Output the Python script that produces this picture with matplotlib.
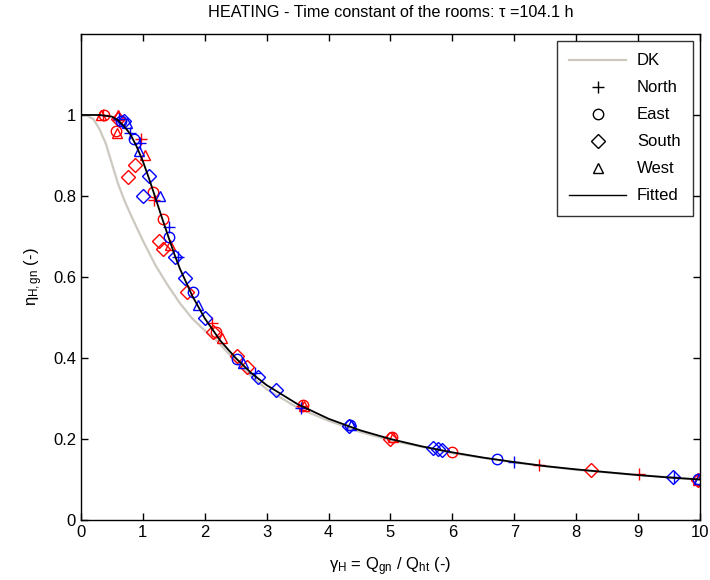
import numpy as np
import matplotlib
matplotlib.use("Agg")
import matplotlib.pyplot as plt
from matplotlib.lines import Line2D

plt.rcParams['font.family'] = ['Liberation Sans', 'DejaVu Sans']
plt.rcParams['mathtext.fontset'] = 'custom'
plt.rcParams['mathtext.rm'] = 'Liberation Sans'
plt.rcParams['mathtext.it'] = 'Liberation Sans:italic'

# Curves
dk_x = [0, 0.1, 0.2, 0.3, 0.4, 0.5, 0.6, 0.7, 0.8, 1.0, 1.2, 1.4, 1.6, 1.8, 2.0, 2.2,
        2.5, 2.75, 3.0, 3.5, 4.0, 4.5, 5.0, 6.0, 7.0, 8.0, 9.0, 10.0]
dk_y = [1.0, 0.998, 0.99, 0.965, 0.93, 0.88, 0.83, 0.79, 0.755, 0.69, 0.63, 0.58, 0.535,
        0.497, 0.468, 0.442, 0.392, 0.355, 0.323, 0.277, 0.245, 0.218, 0.197, 0.165,
        0.142, 0.124, 0.111, 0.10]

fit_x = [0, 0.3, 0.5, 0.6, 0.7, 0.8, 0.9, 1.0, 1.1, 1.2, 1.3, 1.4, 1.5, 1.6, 1.8, 2.0,
         2.25, 2.5, 2.75, 3.0, 3.5, 4.0, 4.5, 5.0, 5.5, 6.0, 6.5, 7.0, 7.5, 8.0, 8.5,
         9.0, 9.5, 10.0]
fit_y = [1.0, 1.0, 0.996, 0.987, 0.972, 0.952, 0.922, 0.886, 0.843, 0.797, 0.75, 0.705,
         0.66, 0.62, 0.553, 0.498, 0.443, 0.40, 0.363, 0.333, 0.286, 0.25, 0.222, 0.20,
         0.182, 0.167, 0.154, 0.143, 0.133, 0.125, 0.118, 0.111, 0.105, 0.10]

# Simulated points, red set
red_north_x = [0.35, 0.97, 1.18, 2.12, 3.57, 7.4, 9.02]
red_north_y = [1.0, 0.94, 0.79, 0.486, 0.282, 0.136, 0.113]
red_east_x = [0.38, 0.57, 1.16, 1.32, 2.18, 3.58, 5.02, 5.99, 9.97]
red_east_y = [1.0, 0.96, 0.81, 0.743, 0.464, 0.284, 0.205, 0.168, 0.10]
red_south_x = [0.6, 0.76, 0.87, 1.26, 1.33, 1.71, 2.13, 2.52, 2.68, 5.0, 8.24, 9.97]
red_south_y = [0.99, 0.848, 0.877, 0.69, 0.67, 0.563, 0.464, 0.405, 0.378, 0.20, 0.123, 0.10]
red_west_x = [0.33, 0.6, 0.58, 1.03, 1.44, 2.28, 3.6, 5.04, 9.97]
red_west_y = [1.0, 1.0, 0.955, 0.90, 0.68, 0.45, 0.282, 0.205, 0.10]

# Simulated points, blue set
blue_north_x = [0.62, 0.8, 0.95, 1.42, 1.57, 2.81, 3.55, 7.0, 9.58]
blue_north_y = [0.99, 0.955, 0.93, 0.723, 0.65, 0.363, 0.277, 0.144, 0.106]
blue_east_x = [0.65, 0.85, 1.42, 1.81, 2.52, 4.35, 6.72, 9.96]
blue_east_y = [0.985, 0.94, 0.70, 0.563, 0.397, 0.235, 0.151, 0.102]
blue_south_x = [0.7, 1.0, 1.1, 1.52, 1.68, 2.0, 2.86, 3.15, 4.33, 5.69, 5.77, 5.83, 9.56]
blue_south_y = [0.985, 0.80, 0.85, 0.65, 0.598, 0.50, 0.353, 0.321, 0.232, 0.178, 0.175,
                0.173, 0.106]
blue_west_x = [0.75, 0.93, 1.28, 1.89, 2.62, 4.37, 9.98]
blue_west_y = [0.98, 0.91, 0.80, 0.53, 0.388, 0.235, 0.102]

GREY = "#cdc9c1"
RED = "#ff0000"
BLUE = "#0000ff"
FS = 12

fig = plt.figure(figsize=(7.1, 5.8), dpi=100)
ax = fig.add_axes([0.114, 0.1034, 0.872, 0.838])

ax.plot(dk_x, dk_y, color=GREY, lw=1.6)

mk = dict(ms=7.5, mfc='none', mew=1.0, ls='none')
pk = dict(ms=9, mew=1.0, ls='none')
dk = dict(ms=7, mfc='none', mew=1.0, ls='none')
ax.plot(red_north_x, red_north_y, marker='+', color=RED, **pk)
ax.plot(red_east_x, red_east_y, marker='o', color=RED, **mk)
ax.plot(red_south_x, red_south_y, marker='D', color=RED, **dk)
ax.plot(red_west_x, red_west_y, marker='^', color=RED, **mk)
ax.plot(blue_north_x, blue_north_y, marker='+', color=BLUE, **pk)
ax.plot(blue_east_x, blue_east_y, marker='o', color=BLUE, **mk)
ax.plot(blue_south_x, blue_south_y, marker='D', color=BLUE, **dk)
ax.plot(blue_west_x, blue_west_y, marker='^', color=BLUE, **mk)

ax.plot(fit_x, fit_y, color='black', lw=1.3)

ax.set_xlim(0, 10)
ax.set_ylim(0, 1.2)
ax.set_xticks(np.arange(0, 11, 1))
ax.set_yticks([0, 0.2, 0.4, 0.6, 0.8, 1.0])
ax.set_yticklabels(['0', '0.2', '0.4', '0.6', '0.8', '1'])
ax.tick_params(direction='in', top=True, right=True, length=5, labelsize=FS, width=1)
for s in ax.spines.values():
    s.set_linewidth(1)

ax.set_title("HEATING - Time constant of the rooms: \u03c4 =104.1 h", fontsize=11.7, pad=12)
ax.set_xlabel(r"$\mathrm{\gamma_H}$ = Q$_\mathrm{gn}$ / Q$_\mathrm{ht}$ (-)", fontsize=FS,
              labelpad=11)
ax.set_ylabel(r"$\mathrm{\eta_{H,gn}}$ (-)", fontsize=FS, labelpad=6)

handles = [
    Line2D([], [], color=GREY, lw=1.6),
    Line2D([], [], marker='+', color='black', ls='none', ms=9),
    Line2D([], [], marker='o', color='black', mfc='none', ls='none', ms=7.5),
    Line2D([], [], marker='D', color='black', mfc='none', ls='none', ms=7),
    Line2D([], [], marker='^', color='black', mfc='none', ls='none', ms=7.5),
    Line2D([], [], color='black', lw=1.0),
]
labels = ['DK', 'North', 'East', 'South', 'West', 'Fitted']
leg = ax.legend(handles, labels, loc='upper right', fontsize=FS, frameon=True,
                fancybox=False, edgecolor='black', handlelength=3.4, labelspacing=0.72,
                borderaxespad=0.42, handletextpad=0.66, borderpad=0.75)
leg.get_frame().set_linewidth(1)

fig.savefig("out.png", dpi=100)
